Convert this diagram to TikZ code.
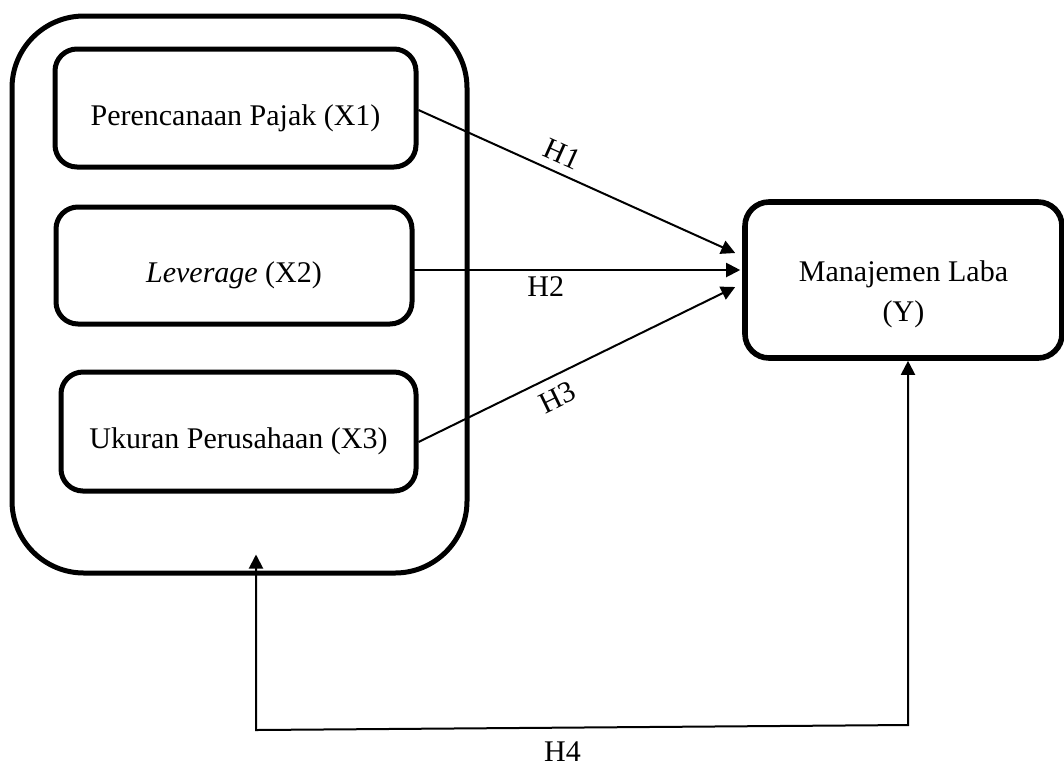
\documentclass[tikz,border=0pt]{standalone}
\usepackage{fontspec}
\setmainfont{Liberation Serif}
\usetikzlibrary{arrows.meta, calc, positioning}

\begin{document}
\begin{tikzpicture}[
        x=0.5pt, y=-0.5pt,
        font=\fontsize{15}{20}\selectfont,
        group/.style={rectangle, draw, line width=2.5pt, rounded corners=36pt, minimum width=227.5pt, minimum height=278.5pt},
        var/.style={rectangle, draw, line width=2.5pt, rounded corners=11pt, text height=20pt, text depth=3pt, inner sep=0pt},
        dep/.style={rectangle, draw, line width=2.8pt, rounded corners=12pt, align=center, inner sep=0pt, minimum width=158.5pt, minimum height=78pt, text height=45pt},
        hyp/.style={inner sep=3pt},
        link/.style={-{Triangle[length=7pt,width=7pt]}, line width=1pt},
        both/.style={{Triangle[length=7pt,width=7pt]}-{Triangle[length=7pt,width=7pt]}, line width=1pt}
    ]
    \useasboundingbox (0,0) rectangle (1064,767);
    % Independent variables (left side)
    \node[group] (grp) at (239.5,294.5) {};
    \node[var, minimum width=180.5pt, minimum height=59pt] (x1) at (235.5,108) {Perencanaan Pajak (X1)};
    \node[var, minimum width=178pt, minimum height=58.5pt] (x2) at (234,265.5) {\textit{Leverage} (X2)};
    \node[var, minimum width=177.5pt, minimum height=59.5pt] (x3) at (238.5,431.5) {Ukuran Perusahaan (X3)};
    % Dependent variable (right side)
    \node[dep] (y) at (903.5,280) {Manajemen Laba\\(Y)};
    % Partial hypotheses
    \draw[link] ([shift={(0,2)}]x1.east) -- node[hyp, pos=0.43, above=1pt, sloped] (h1) {H1} ([shift={(-7,-27)}]y.west);
    \draw[link] ([shift={(-4,4.5)}]x2.east) -- node[hyp, pos=0.41, below] (h2) {H2} ([shift={(-2,-10)}]y.west);
    \draw[link] ([shift={(0,10.5)}]x3.east) -- node[hyp, pos=0.41, below=2pt, sloped] (h3) {H3} ([shift={(-7,7)}]y.west);
    % Simultaneous hypothesis
    \coordinate (h4a) at (256,730);
    \coordinate (h4b) at (908,725);
    \draw[both] ($(grp.south -| h4a)+(0,-21)$) -- (h4a) -- node[hyp, pos=0.47, below=3.5pt] (h4) {H4} (h4b) -- (y.south -| h4b);
\end{tikzpicture}
\end{document}
